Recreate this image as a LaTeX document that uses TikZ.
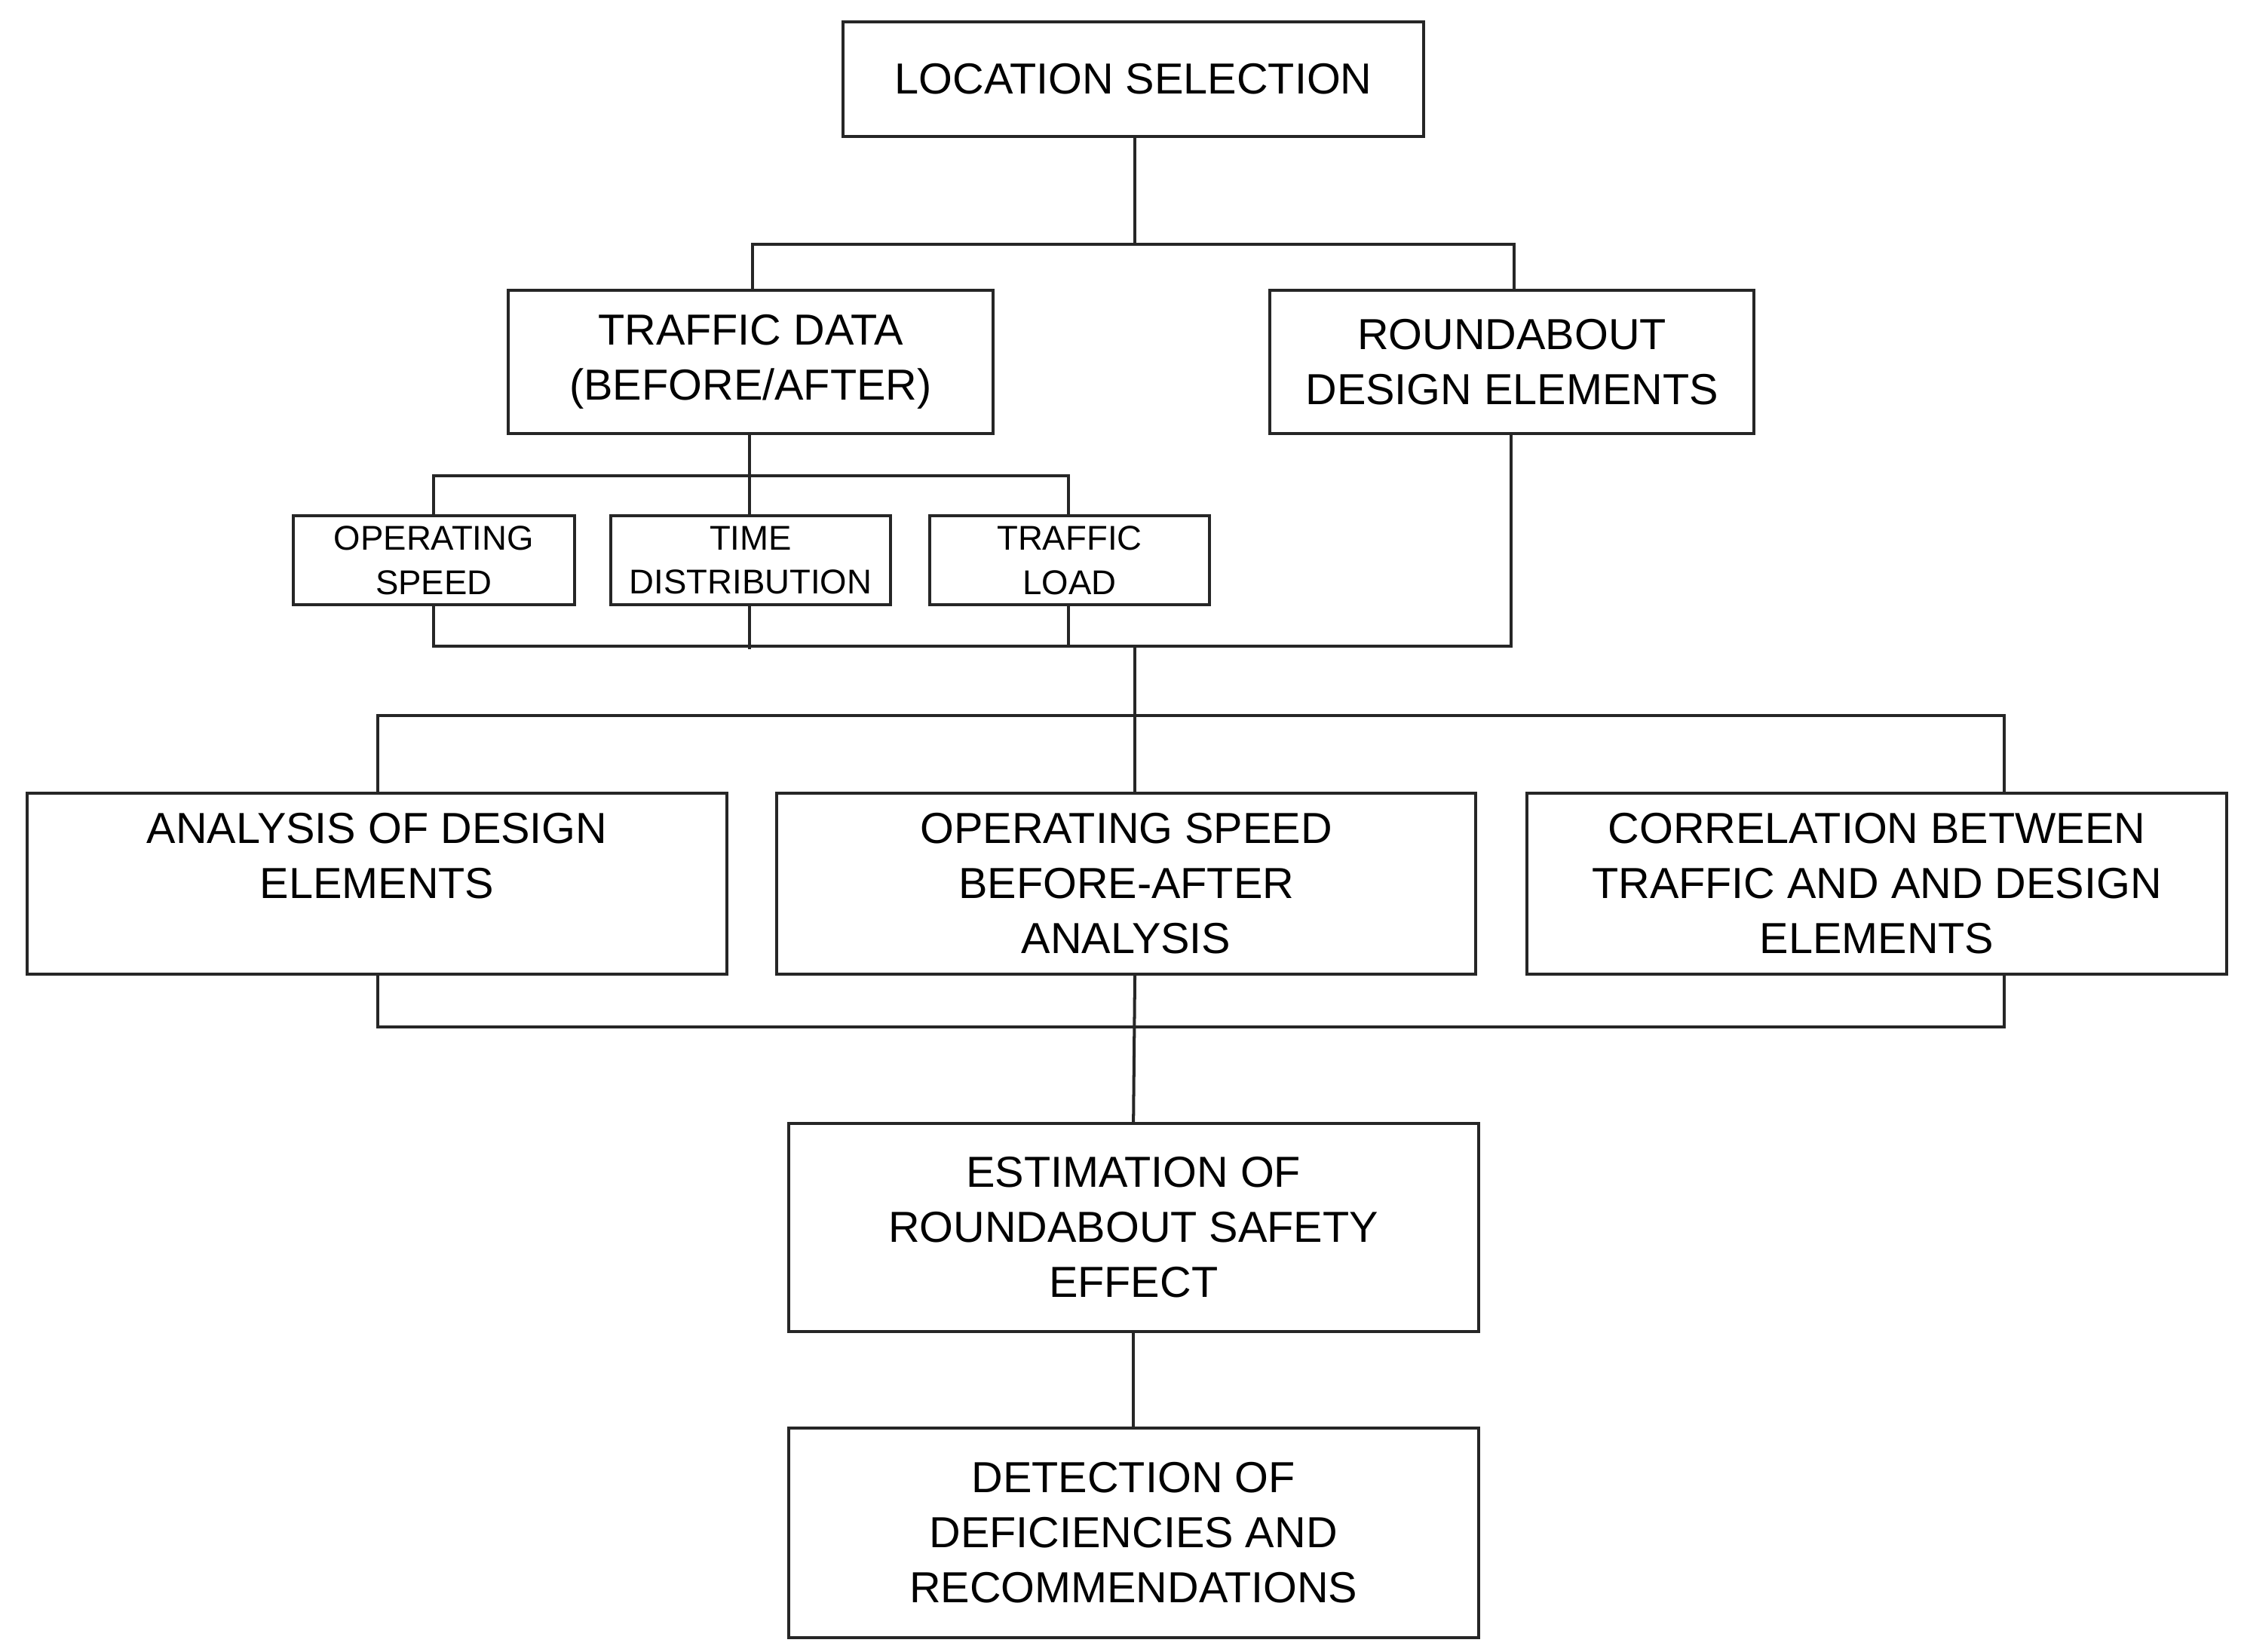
\documentclass[tikz,border=0pt]{standalone}
\usepackage{fontspec}
\setmainfont{Liberation Sans}
\begin{document}
\begin{tikzpicture}[x=0.01cm,y=-0.01cm,
 box/.style={draw=black!85,line width=0.6pt,inner sep=0pt,align=center,font=\fontsize{8.6}{10.9}\selectfont},
 sbox/.style={draw=black!85,line width=0.6pt,inner sep=0pt,align=center,font=\fontsize{6.8}{8.8}\selectfont},
 ln/.style={draw=black!85,line width=0.6pt}]
\useasboundingbox (0,0) rectangle (1560,1150);
\node[box,minimum width=404\pgflinewidth*0+4.04cm,minimum height=0.80cm] (loc) at (789,55) {LOCATION SELECTION};
\node[box,minimum width=3.37cm,minimum height=1.00cm] (td) at (522.5,252) {TRAFFIC DATA\\(BEFORE/AFTER)};
\node[box,minimum width=3.37cm,minimum height=1.00cm] (rd) at (1052.5,252) {ROUNDABOUT\\DESIGN ELEMENTS};
\node[sbox,minimum width=1.96cm,minimum height=0.62cm] (os) at (302,390) {OPERATING\\SPEED};
\node[sbox,minimum width=1.95cm,minimum height=0.62cm] (tdist) at (522.5,390) {TIME\\DISTRIBUTION};
\node[sbox,minimum width=1.95cm,minimum height=0.62cm] (tl) at (744.5,390) {TRAFFIC\\LOAD};
\node[box,minimum width=4.87cm,minimum height=1.26cm] (an) at (262.5,615) {ANALYSIS OF DESIGN\\ELEMENTS\\\mbox{}};
\node[box,minimum width=4.86cm,minimum height=1.26cm] (ops) at (784,615) {OPERATING SPEED\\BEFORE-AFTER\\ANALYSIS};
\node[box,minimum width=4.87cm,minimum height=1.26cm] (cor) at (1306.5,615) {CORRELATION BETWEEN\\TRAFFIC AND AND DESIGN\\ELEMENTS};
\node[box,minimum width=4.80cm,minimum height=1.45cm] (est) at (789,854.5) {ESTIMATION OF\\ROUNDABOUT SAFETY\\EFFECT};
\node[box,minimum width=4.80cm,minimum height=1.46cm] (det) at (789,1067) {DETECTION OF\\DEFICIENCIES AND\\RECOMMENDATIONS};
\coordinate (j1) at (790,170);
\coordinate (j2) at (522,331);
\coordinate (j3) at (790,450);
\coordinate (j4) at (790,498);
\coordinate (j5) at (790,715);
\draw[ln] (790,95) -- (j1);
\draw[ln] (524,202) -- (524,170) -- (1054,170) -- (1054,202);
\draw[ln] (522,302) -- (522,359);
\draw[ln] (302,359) -- (302,331) -- (744,331) -- (744,359);
\draw[ln] (302,421) -- (302,450) -- (1052,450) -- (1052,302);
\draw[ln] (522,421) -- (522,452);
\draw[ln] (744,421) -- (744,450);
\draw[ln] (j3) -- (790,552);
\draw[ln] (263,552) -- (263,498) -- (1395,498) -- (1395,552);
\draw[ln] (263,678) -- (263,715) -- (1395,715) -- (1395,678);
\draw[ln] (790,678) -- (est.north);
\draw[ln] (est.south) -- (det.north);
\end{tikzpicture}
\end{document}
